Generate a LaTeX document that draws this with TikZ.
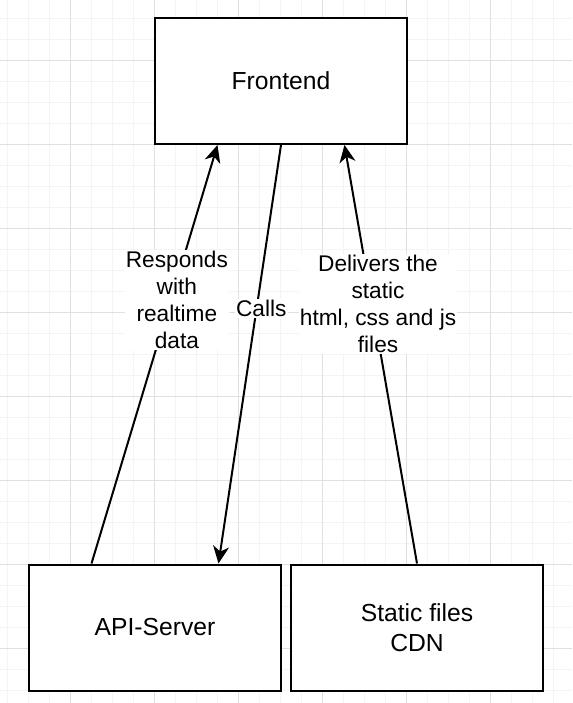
\documentclass[tikz,border=0pt]{standalone}
\usepackage{fontspec}
\setmainfont{Liberation Sans}
\usetikzlibrary{arrows.meta,calc}

\definecolor{gridminor}{RGB}{244,244,244}
\definecolor{gridmajor}{RGB}{224,224,224}

\tikzset{
  box/.style={draw=black,line width=1.5pt,fill=white,minimum width=189pt,minimum height=94.5pt,
    inner sep=0pt,align=center,font=\fontsize{18.5}{22.2}\selectfont},
  conn/.style={line width=1.5pt,-{Stealth[length=13pt,width=12pt,inset=4pt]}},
  lbl/.style={fill=white,inner sep=1pt,align=center,font=\fontsize{17}{20.25}\selectfont},
  minorline/.style={draw=gridminor,line width=0.75pt},
  majorline/.style={draw=gridmajor,line width=0.75pt},
}

\begin{document}
\begin{tikzpicture}[x=0.75pt,y=0.75pt,yscale=-1,xscale=1]
\useasboundingbox (0,0) rectangle (572,703);

%Background grid
\fill[white] (0,0) rectangle (572,703);
\foreach \i in {0,...,27} \draw[minorline] ({7+21*\i},0) -- ({7+21*\i},703);
\foreach \i in {0,...,33} \draw[minorline] (0,{18+21*\i}) -- (572,{18+21*\i});
\foreach \i in {0,...,5} \draw[majorline] ({70+84*\i},0) -- ({70+84*\i},703);
\foreach \i in {0,...,7} \draw[majorline] (0,{60+84*\i}) -- (572,{60+84*\i});

%Boxes
\node[box] (frontend) at (281,81) {Frontend};
\node[box] (api) at (155,627.5) {API-Server};
\node[box] (static) at (417,627.5) {Static files\\CDN};

%Connectors
\draw[conn] ($(api.north west)!0.25!(api.north east)$) -- node[lbl,pos=0.63,xshift=4.5pt] (responds) {Responds\\with\\realtime\\data} ($(frontend.south west)!0.25!(frontend.south east)$);
\draw[conn] (frontend.south) -- node[lbl,pos=0.39,xshift=3.5pt] (calls) {Calls} ($(api.north west)!0.75!(api.north east)$);
\draw[conn] (static.north) -- node[lbl,pos=0.62,xshift=4.5pt] (delivers) {Delivers the\\static\\html, css and js\\files} ($(frontend.south west)!0.75!(frontend.south east)$);

\end{tikzpicture}
\end{document}
